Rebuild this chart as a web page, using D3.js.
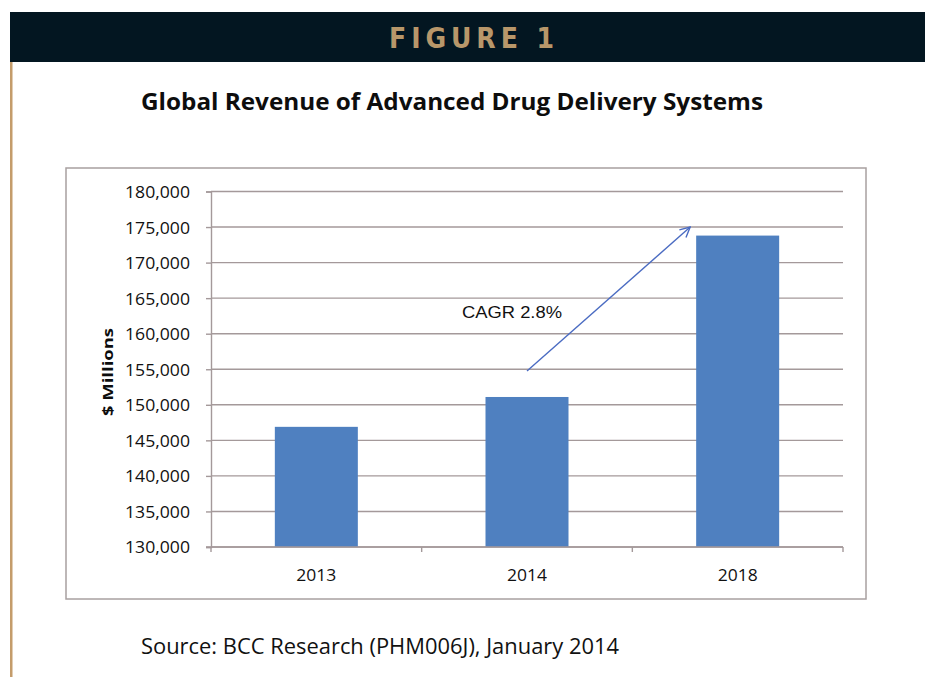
<!DOCTYPE html>
<html>
<head>
<meta charset="utf-8">
<script src="https://cdn.jsdelivr.net/npm/d3@7"></script>
<style>
    body { margin: 0; background: #ffffff; }
    svg { display: block; }
</style>
</head>
<body>
<div id="chart"></div>
<script>
// data
var years = ["2013", "2014", "2018"];
var revenue = [146900, 151100, 173800];
var yTicks = [130000, 135000, 140000, 145000, 150000, 155000, 160000, 165000, 170000, 175000, 180000];
var cagrLabel = "CAGR 2.8%";
var cagrFrom = ["2014", 154750];
var cagrTo = ["2018", 175000];

document.addEventListener("DOMContentLoaded", function () {
    drawFigure();
});

function drawFigure() {
    var W = 925, H = 677;
    var fontCal = "'Open Sans', 'Noto Sans', sans-serif";

    var svg = d3.select("#chart")
        .append("svg")
        .attr("width", W)
        .attr("height", H);

    // defs for the arrow head (open chevron)
    svg.append("defs").append("marker")
        .attr("id", "arrowHead")
        .attr("viewBox", "0 0 12 12")
        .attr("refX", 11)
        .attr("refY", 6)
        .attr("markerWidth", 12)
        .attr("markerHeight", 12)
        .attr("markerUnits", "userSpaceOnUse")
        .attr("orient", "auto")
        .append("path")
        .attr("d", "M1,1 L11,6 L1,11")
        .attr("fill", "none")
        .attr("stroke", "#4a6bc2")
        .attr("stroke-width", 1.4);

    // dark banner + tan rule on the left
    svg.append("rect")
        .attr("x", 10).attr("y", 12)
        .attr("width", W - 10).attr("height", 50)
        .attr("fill", "#031621");
    svg.append("rect")
        .attr("x", 10).attr("y", 62)
        .attr("width", 2.5).attr("height", H - 62)
        .attr("fill", "#c49c6b");

    svg.append("text")
        .attr("x", 389)
        .attr("y", 47.5)
        .attr("font-family", "'Liberation Sans Narrow', 'DejaVu Sans Condensed', sans-serif")
        .attr("font-stretch", "condensed")
        .attr("font-weight", "bold")
        .attr("font-size", 28)
        .attr("fill", "#b8976a")
        .attr("textLength", 165)
        .attr("lengthAdjust", "spacing")
        .text("FIGURE 1");

    // chart title
    svg.append("text")
        .attr("x", 452)
        .attr("y", 109.5)
        .attr("text-anchor", "middle")
        .attr("font-family", fontCal)
        .attr("font-weight", "bold")
        .attr("font-size", 22.5)
        .attr("fill", "#0d0d0d")
        .attr("textLength", 622)
        .attr("lengthAdjust", "spacingAndGlyphs")
        .text("Global Revenue of Advanced Drug Delivery Systems");

    // chart area border
    svg.append("rect")
        .attr("x", 66).attr("y", 168)
        .attr("width", 800).attr("height", 431)
        .attr("fill", "none")
        .attr("stroke", "#a8a0a0")
        .attr("stroke-width", 1.5);

    // scales
    var x = d3.scaleBand()
        .domain(years)
        .range([211, 843])
        .paddingInner(0.606)
        .paddingOuter(0.303);

    var y = d3.scaleLinear()
        .domain([130000, 180000])
        .range([547, 191.5]);

    var gridColor = "#a4999a";

    // horizontal grid lines
    svg.append("g")
        .selectAll("line")
        .data(yTicks)
        .enter()
        .append("line")
        .attr("x1", 211)
        .attr("x2", 843)
        .attr("y1", function (d) { return y(d); })
        .attr("y2", function (d) { return y(d); })
        .attr("stroke", gridColor)
        .attr("stroke-width", 1.4);

    // bars
    svg.append("g")
        .selectAll("rect")
        .data(years)
        .enter()
        .append("rect")
        .attr("x", function (d) { return x(d); })
        .attr("y", function (d, i) { return y(revenue[i]); })
        .attr("width", x.bandwidth())
        .attr("height", function (d, i) { return y(130000) - y(revenue[i]); })
        .attr("fill", "#4f80c0");

    // y axis
    var yAxis = svg.append("g")
        .attr("transform", "translate(211,0)")
        .call(d3.axisLeft(y)
            .tickValues(yTicks)
            .tickFormat(d3.format(","))
            .tickSize(5)
            .tickPadding(16));
    yAxis.select(".domain").attr("stroke", gridColor).attr("stroke-width", 1.4);
    yAxis.selectAll(".tick line").attr("stroke", gridColor).attr("stroke-width", 1.4);
    yAxis.selectAll(".tick text")
        .attr("font-family", fontCal)
        .attr("font-size", 16.5)
        .attr("fill", "#111111")
        .attr("dy", "0.36em")
        .attr("textLength", 65)
        .attr("lengthAdjust", "spacingAndGlyphs");

    // x axis: labels under bands, tick marks at category boundaries
    var xAxis = svg.append("g")
        .attr("transform", "translate(0,547)")
        .call(d3.axisBottom(x).tickSize(0).tickPadding(20));
    xAxis.select(".domain").attr("stroke", gridColor).attr("stroke-width", 1.4)
        .attr("d", "M206,0H843");
    xAxis.selectAll(".tick text")
        .attr("font-family", fontCal)
        .attr("font-size", 17)
        .attr("fill", "#111111")
        .attr("y", 34)
        .attr("dy", 0)
        .attr("textLength", 40)
        .attr("lengthAdjust", "spacingAndGlyphs");

    var edges = years.map(function (d) { return x(d) - x.step() * x.paddingInner() / 2; });
    edges.push(x.range()[1]);
    xAxis.append("g")
        .selectAll("line")
        .data(edges)
        .enter()
        .append("line")
        .attr("x1", function (d) { return d; })
        .attr("x2", function (d) { return d; })
        .attr("y1", 0)
        .attr("y2", 5)
        .attr("stroke", gridColor)
        .attr("stroke-width", 1.4);

    // y axis title
    svg.append("text")
        .attr("transform", "translate(112.5,372) rotate(-90)")
        .attr("text-anchor", "middle")
        .attr("font-family", fontCal)
        .attr("font-weight", "bold")
        .attr("font-size", 14.5)
        .attr("fill", "#0d0d0d")
        .attr("textLength", 88)
        .attr("lengthAdjust", "spacingAndGlyphs")
        .text("$ Millions");

    // CAGR arrow and label
    svg.append("line")
        .attr("x1", x(cagrFrom[0]) + x.bandwidth() / 2)
        .attr("y1", y(cagrFrom[1]))
        .attr("x2", x(cagrTo[0]) - 6)
        .attr("y2", y(cagrTo[1]))
        .attr("stroke", "#4a6bc2")
        .attr("stroke-width", 1.4)
        .attr("marker-end", "url(#arrowHead)");

    svg.append("text")
        .attr("x", 462)
        .attr("y", 317.5)
        .attr("font-family", "'Liberation Sans', Arial, sans-serif")
        .attr("font-size", 16)
        .attr("fill", "#111111")
        .attr("textLength", 100)
        .attr("lengthAdjust", "spacingAndGlyphs")
        .text(cagrLabel);

    // source line
    svg.append("text")
        .attr("x", 141)
        .attr("y", 653.5)
        .attr("font-family", fontCal)
        .attr("font-size", 21)
        .attr("fill", "#111111")
        .attr("textLength", 478)
        .attr("lengthAdjust", "spacingAndGlyphs")
        .text("Source: BCC Research (PHM006J), January 2014");
}
</script>
</body>
</html>
